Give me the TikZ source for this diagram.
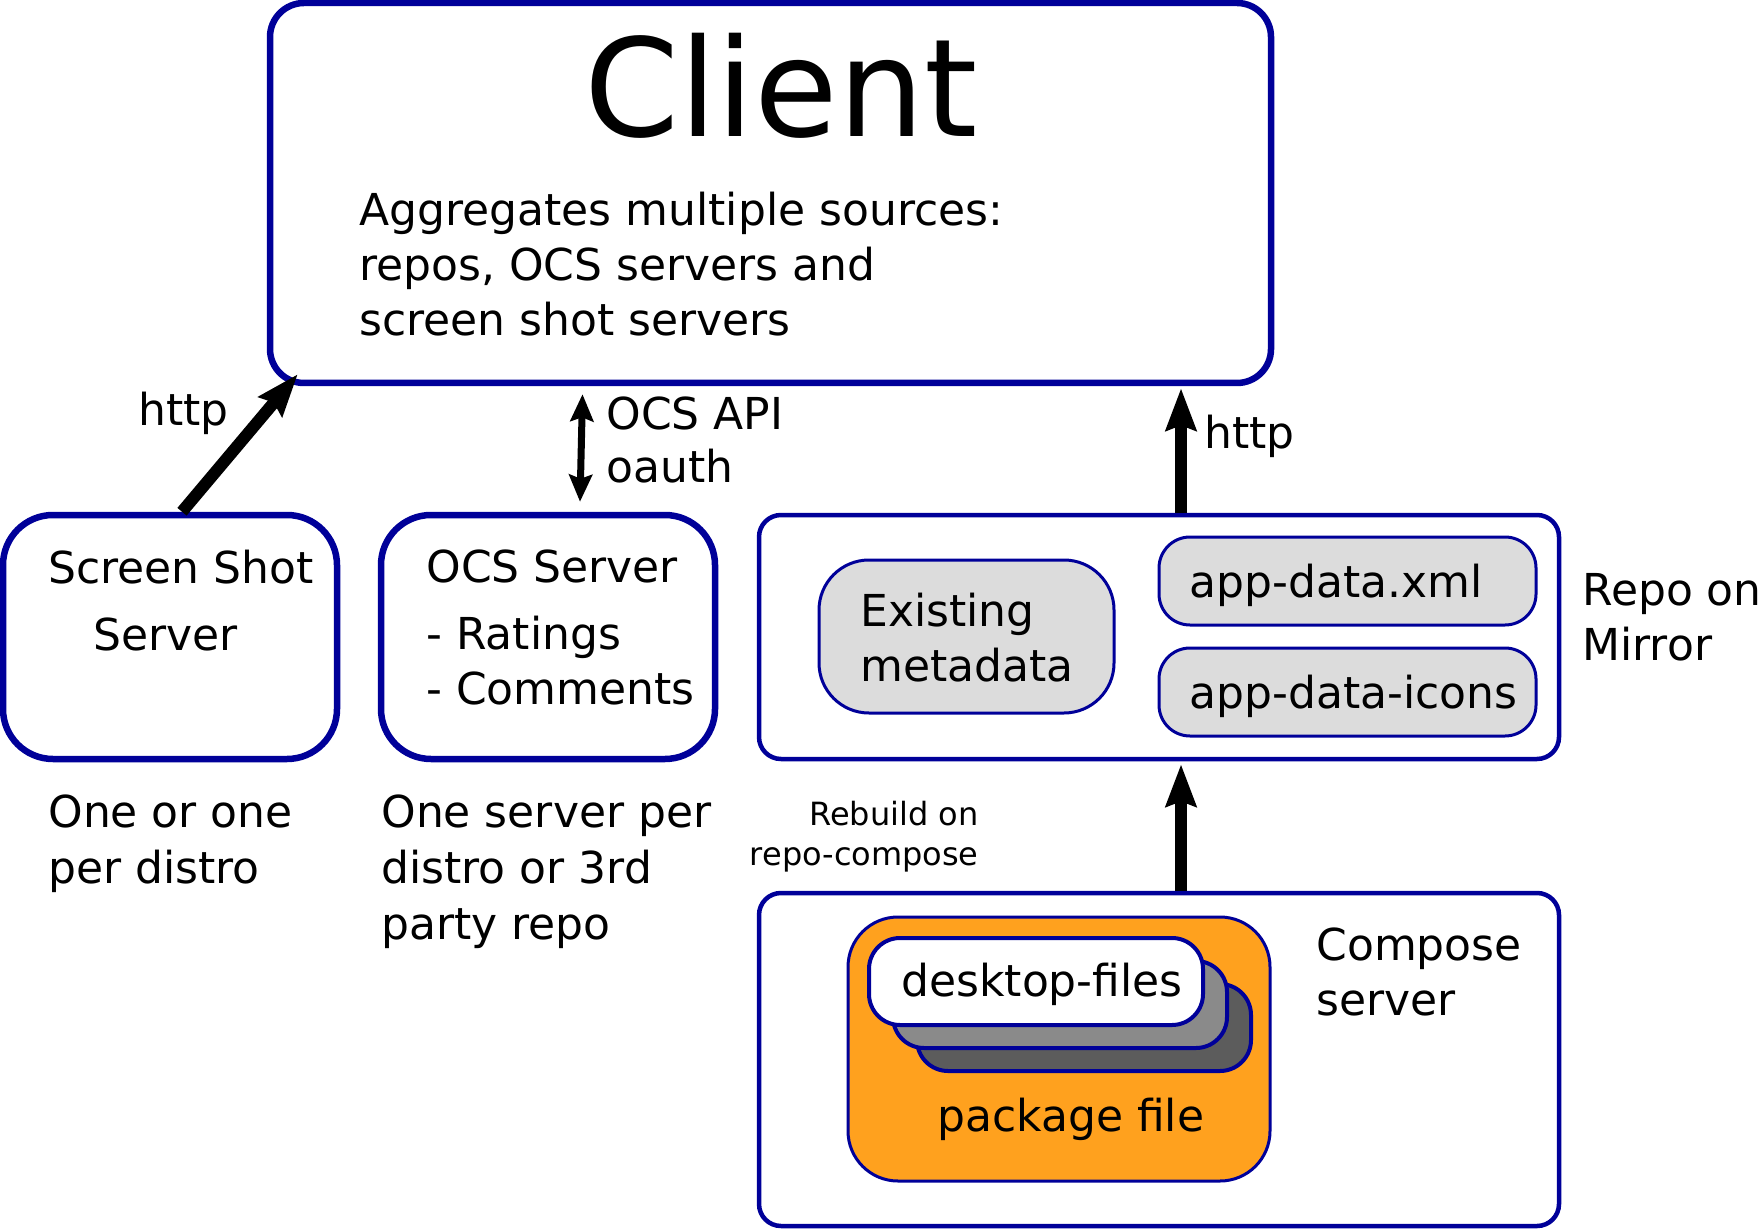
\documentclass[tikz,border=0pt]{standalone}
\usepackage{fontspec}
\setmainfont{DejaVu Sans}
\usetikzlibrary{arrows.meta,calc}

\definecolor{boxblue}{RGB}{0,0,153}
\definecolor{pkgorange}{RGB}{255,161,30}
\definecolor{metagray}{RGB}{220,220,220}
\definecolor{sheetmid}{RGB}{138,138,138}
\definecolor{sheetdark}{RGB}{92,92,92}

\tikzset{
  bigbox/.style={draw=boxblue, line width=3.25pt, fill=white, rounded corners=25pt, inner sep=0pt},
  innerbox/.style={draw=boxblue, line width=1.5pt, rounded corners=15.5pt, inner sep=0pt},
  txt/.style={inner sep=0pt, anchor=base west, align=left, font=\fontsize{22}{27.5}\selectfont},
  bigarrow/.style={line width=6pt, -{Stealth[length=21pt, width=15pt, inset=2.5pt]}},
  thinarrow/.style={line width=3.5pt, {Stealth[length=13.5pt, width=11.5pt, inset=2pt]}-{Stealth[length=13.5pt, width=11.5pt, inset=2pt]}}
}

\begin{document}
\begin{tikzpicture}[x=0.5pt, y=-0.5pt]
        \useasboundingbox (0,0) rectangle (1759,1229);

        % Client (multi-line texts are placed at the baseline of their last line)
        \node[bigbox, rounded corners=17pt, minimum width=500.5pt, minimum height=190pt] (client) at (770.5,193) {};
        \node[inner sep=0pt, anchor=base, font=\fontsize{68}{82}\selectfont] (clientlbl) at (781,137) {Client};
        \node[txt] (aggtxt) at (359,336) {Aggregates multiple sources:\\repos, OCS servers and\\screen shot servers};

        % Servers
        \node[bigbox, minimum width=167pt, minimum height=122pt] (shot) at (170,637) {};
        \node[txt] (shottxt) at (48,650) {Screen Shot\\[6pt]\hspace*{22.5pt}Server};
        \node[bigbox, minimum width=167pt, minimum height=122pt] (ocs) at (548,637) {};
        \node[txt] (ocstxt) at (426,704) {OCS Server\\[6pt]- Ratings\\- Comments};

        % Repo on mirror
        \node[bigbox, line width=2.25pt, rounded corners=11pt, minimum width=400pt, minimum height=122pt] (repo) at (1159,637) {};
        \node[innerbox, fill=metagray, rounded corners=25pt, minimum width=147.5pt, minimum height=76.5pt] (meta) at (966.5,636.5) {};
        \node[txt] (metatxt) at (860,681) {Existing\\metadata};
        \node[innerbox, fill=metagray, minimum width=188.5pt, minimum height=44pt] (xml) at (1347.5,581) {};
        \node[txt] (xmltxt) at (1189,597) {app-data.xml};
        \node[innerbox, fill=metagray, minimum width=188.5pt, minimum height=44pt] (icons) at (1347.5,692) {};
        \node[txt] (iconstxt) at (1189,708) {app-data-icons};
        \node[txt] (mirrortxt) at (1582,660) {Repo on\\Mirror};

        % Compose server
        \node[bigbox, line width=2.25pt, rounded corners=11pt, minimum width=400pt, minimum height=166.5pt] (compose) at (1159,1059.5) {};
        \node[innerbox, fill=pkgorange, rounded corners=25pt, minimum width=211pt, minimum height=132pt] (pkg) at (1059,1049) {};
        \foreach \i/\col in {2/sheetdark, 1/sheetmid, 0/white} {
            \node[innerbox, line width=2pt, fill=\col, minimum width=167pt, minimum height=43.5pt] (sheet\i) at (1036+24*\i,981.5+23*\i) {};
        }
        \node[txt] (desktoptxt) at (901,996) {desktop-files};
        \node[txt] (pkgtxt) at (937,1131) {package file};
        \node[txt] (composetxt) at (1316,1015) {Compose\\server};

        % Connectors
        \draw[bigarrow] ($(shot.north)+(12,0)$) -- ($(client.south west)+(31,-12)$);
        \draw[thinarrow] ($(ocs.north)+(32,-10)$) -- ($(client.south)+(-188,8)$);
        \draw[bigarrow] ($(repo.north)+(22,0)$) -- ($(client.south)+(410.5,2)$);
        \draw[bigarrow] ($(compose.north)+(22,0)$) -- ($(repo.south)+(22,3)$);

        % Labels
        \node[txt] (httpleft) at (138,426) {http};
        \node[txt, font=\fontsize{22}{26.5}\selectfont] (ocsapi) at (606,482) {OCS API\\oauth};
        \node[txt] (httpright) at (1204,449) {http};
        \node[txt, anchor=base east, align=right, font=\fontsize{16}{20}\selectfont] (rebuildtxt) at (979,865) {Rebuild on\\repo-compose};
        \node[txt, font=\fontsize{22}{28}\selectfont] (onetxt) at (48,883) {One or one\\per distro};
        \node[txt, font=\fontsize{22}{28}\selectfont] (onesrvtxt) at (381,939) {One server per\\distro or 3rd\\party repo};
\end{tikzpicture}
\end{document}
